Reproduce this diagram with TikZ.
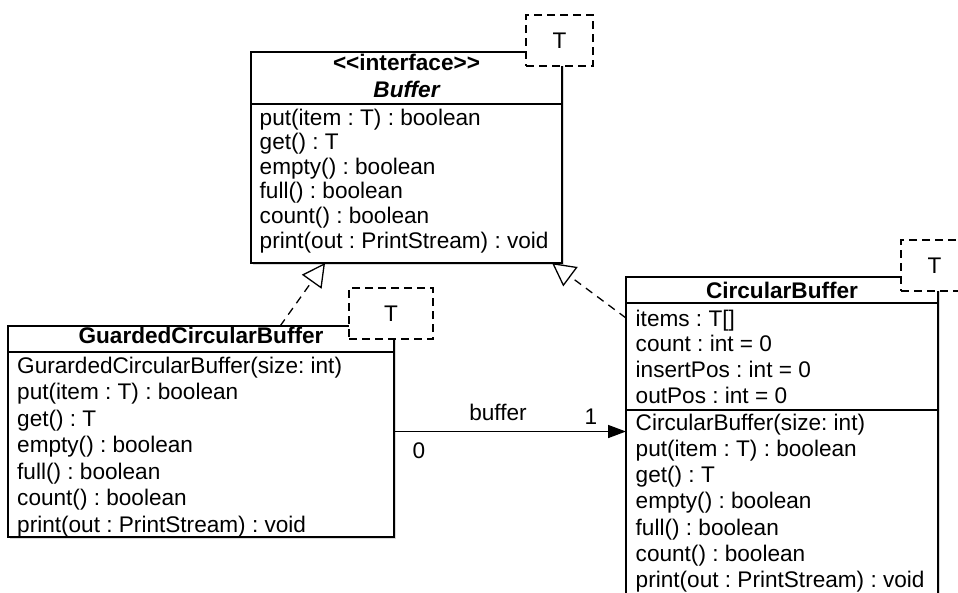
\documentclass[tikz,border=0pt]{standalone}
\usepackage{fontspec}
\setmainfont{Liberation Sans}
\usetikzlibrary{positioning, arrows.meta, calc, shadows}
\frenchspacing

\begin{document}
\begin{tikzpicture}[
  x=1pt, y=-1pt,
  classbox/.style={draw, line width=1.6pt, fill=white, outer sep=0, inner sep=0, anchor=north west,
    drop shadow={opacity=0.3, shadow xshift=1.5pt, shadow yshift=-2pt}},
  member/.style={anchor=base west, inner sep=0, font=\fontsize{22.6}{26}\selectfont},
  title/.style={anchor=base, inner sep=0, font=\fontsize{22.6}{26}\selectfont\bfseries},
  param/.style={draw, line width=1.6pt, dash pattern=on 8pt off 5pt, fill=white, outer sep=0, inner sep=0,
    anchor=north west, minimum height=51pt, font=\fontsize{22.6}{26}\selectfont},
  realize/.style={line width=1.3pt, dash pattern=on 8pt off 6pt, -{Triangle[open, length=23pt, width=24pt]}},
  assoc/.style={line width=1.6pt, -{Triangle[length=18pt, width=13pt]}},
  ]

  \useasboundingbox (0,0) rectangle (958,592);
  \clip (0,0) rectangle (958,592);

  % Buffer interface
  \node[classbox, minimum width=311pt, minimum height=52pt] (bufferHead) at (251,52) {};
  \node[classbox, minimum width=311pt, minimum height=159pt, below=0pt of bufferHead] (bufferBody) {};
  \node[title] (bufferStereo) at (406.5,70) {<\kern0pt<interface>\kern0pt>};
  \node[title] (bufferName) at (406.5,97) {\itshape Buffer};
  \foreach \op [count=\i] in {put(item : T) : boolean, get() : T, empty() : boolean,
      full() : boolean, count() : boolean, print(out : PrintStream) : void}
    \node[member] (bufferOp\i) at (259.5,100.4+24.6*\i) {\op};
  \node[param, minimum width=67pt] (bufferParam) at (526,15) {T};

  % GuardedCircularBuffer
  \node[classbox, minimum width=386pt, minimum height=26pt] (guardedHead) at (8,326) {};
  \node[classbox, minimum width=386pt, minimum height=185pt, below=0pt of guardedHead] (guardedBody) {};
  \node[title] (guardedName) at (201,343) {GuardedCircularBuffer};
  \foreach \op [count=\i] in {GurardedCircularBuffer(size: int), put(item : T) : boolean, get() : T,
      empty() : boolean, full() : boolean, count() : boolean, print(out : PrintStream) : void}
    \node[member] (guardedOp\i) at (17,346.5+26.5*\i) {\op};
  \node[param, minimum width=84pt] (guardedParam) at (349,288) {T};

  % CircularBuffer
  \node[classbox, minimum width=312pt, minimum height=26pt] (circularHead) at (626,277) {};
  \node[classbox, minimum width=312pt, minimum height=107pt, below=0pt of circularHead] (circularAttrs) {};
  \node[classbox, minimum width=312pt, minimum height=210pt, below=0pt of circularAttrs] (circularOps) {};
  \node[title] (circularName) at (782,298) {CircularBuffer};
  \foreach \at [count=\i] in {items : T[], count : int = 0, insertPos : int = 0, outPos : int = 0}
    \node[member] (circularAt\i) at (635.5,300.3+25.8*\i) {\at};
  \foreach \op [count=\i] in {CircularBuffer(size: int), put(item : T) : boolean, get() : T,
      empty() : boolean, full() : boolean, count() : boolean, print(out : PrintStream) : void}
    \node[member] (circularOp\i) at (635.5,403.7+26.3*\i) {\op};
  \node[param, minimum width=67pt] (circularParam) at (901,240) {T};

  % realizations
  \draw[realize] ($(guardedHead.north west)!0.705!(guardedHead.north east)$)
    -- ($(bufferBody.south west)!0.238!(bufferBody.south east)$);
  \draw[realize] ($(circularAttrs.north west)+(0,15)$)
    -- ($(bufferBody.south west)!0.968!(bufferBody.south east)$);

  % association
  \coordinate (assocStart) at ($(guardedHead.north east)!0.5!(guardedBody.south east)$);
  \draw[assoc] (assocStart) -- (assocStart -| circularOps.west);
  \node[member, anchor=base] (roleName) at (498,420) {buffer};
  \node[member, anchor=base] (multTarget) at (591,424) {1};
  \node[member, anchor=base] (multSource) at (419,458) {0};

\end{tikzpicture}
\end{document}
